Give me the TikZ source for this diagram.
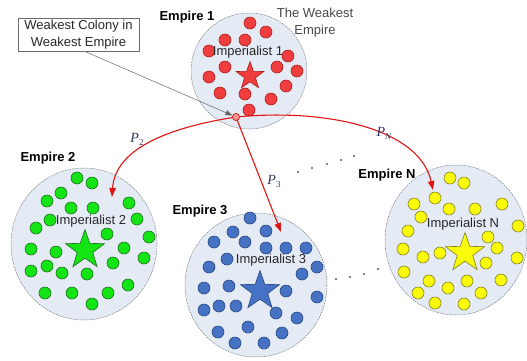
\documentclass[tikz,border=0pt]{standalone}
\usepackage{fontspec}
\setmainfont{Liberation Sans}
\newfontfamily\pfont{Liberation Serif}
\usetikzlibrary{shapes.geometric,arrows.meta}
\definecolor{bgfill}{RGB}{229,235,245}
\definecolor{rimgray}{RGB}{120,120,120}
\definecolor{rfill}{RGB}{240,62,62}
\definecolor{rdraw}{RGB}{175,30,30}
\definecolor{gfill}{RGB}{20,228,20}
\definecolor{gdraw}{RGB}{30,110,30}
\definecolor{bfill}{RGB}{70,114,196}
\definecolor{bdraw}{RGB}{40,70,130}
\definecolor{yfill}{RGB}{250,250,10}
\definecolor{ydraw}{RGB}{130,130,30}
\definecolor{arrred}{RGB}{225,20,20}
\definecolor{plabel}{RGB}{45,55,95}
\definecolor{txtgray}{RGB}{40,40,40}
\begin{document}
\begin{tikzpicture}[x=1pt,y=-1pt,
  empire/.style={ellipse,draw=rimgray,line width=0.5pt,dash pattern=on 1.5pt off 1pt,fill=bgfill,inner sep=0pt},
  dotbase/.style={circle,minimum size=12pt,inner sep=0pt,line width=0.6pt},
  rdot/.style={dotbase,fill=rfill,draw=rdraw},
  gdot/.style={dotbase,fill=gfill,draw=gdraw},
  bdot/.style={dotbase,fill=bfill,draw=bdraw},
  ydot/.style={dotbase,fill=yfill,draw=ydraw},
  impstar/.style={star,star points=5,star point ratio=2.5,inner sep=0pt,line width=0.6pt},
  emplabel/.style={font=\fontsize{13}{15}\selectfont\bfseries,text=black,inner sep=0pt},
  implabel/.style={font=\fontsize{13}{15}\selectfont,text=txtgray,inner sep=0pt},
  plab/.style={font=\fontsize{14}{16}\selectfont\pfont,text=plabel,inner sep=0pt},
  redarrow/.style={draw=arrred,line width=1.1pt,-{Triangle[length=9pt,width=6.5pt]}},
  sepdot/.style={fill=black,radius=0.9pt}
]
\useasboundingbox (0,0) rectangle (527,360);

% empires
\node[empire, minimum width=116pt, minimum height=116pt] (E1) at (249,71) {};
\node[empire, minimum width=146pt, minimum height=152pt] (E2) at (84,244) {};
\node[empire, minimum width=142pt, minimum height=144pt] (E3) at (256,285) {};
\node[empire, minimum width=142pt, minimum height=150pt] (EN) at (456,240) {};

% colonies
\foreach \x/\y [count=\i] in {250/23,266/32,225/40,245/40,209/51,288/56,225/67,277/67,297/71,209/77,286/86,220/93,245/94,271/99,249/110}
  \node[rdot] (r\i) at (\x,\y) {};
\foreach \x/\y [count=\i] in {77/178,92/183,61/193,47/201,71/208,93/208,129/203,50/220,137/219,36/228,107/234,149/237,31/249,56/252,124/248,144/258,31/271,47/266,62/273,87/274,113/263,45/293,72/293,108/293,128/285,92/304}
  \node[gdot] (g\i) at (\x,\y) {};
\foreach \x/\y [count=\i] in {250/218,233/232,266/231,214/242,245/242,266/248,286/248,306/248,227/259,209/267,317/267,302/274,204/288,229/286,286/291,317/297,204/310,219/306,236/306,276/313,297/318,248/327,218/332,282/333,235/343,264/343}
  \node[bdot] (b\i) at (\x,\y) {};
\foreach \x/\y [count=\i] in {450/178,464/183,414/204,435/198,449/209,475/209,502/204,421/217,408/231,518/226,488/237,403/249,423/257,440/253,497/248,517/258,486/263,404/272,429/281,467/281,501/280,418/293,448/288,481/293,435/303,464/304}
  \node[ydot] (y\i) at (\x,\y) {};

% imperialists
\node[impstar, minimum size=29pt, fill=rfill, draw=rdraw] (S1) at (250,76) {};
\node[impstar, minimum size=41pt, fill=gfill, draw=gdraw] (S2) at (85,250) {};
\node[impstar, minimum size=41pt, fill=bfill, draw=bdraw] (S3) at (260,291) {};
\node[impstar, minimum size=41pt, fill=yfill, draw=ydraw] (SN) at (465,253) {};

\node[implabel] (I1) at (248,52) {Imperialist 1};
\node[implabel] (I2) at (91,221) {Imperialist 2};
\node[implabel] (I3) at (271,260) {Imperialist 3};
\node[implabel] (IN) at (463,224) {Imperialist N};

% empire labels
\node[emplabel] (L1) at (187,17) {Empire 1};
\node[emplabel] (L2) at (48,158) {Empire 2};
\node[emplabel] (L3) at (200,211) {Empire 3};
\node[emplabel] (LN) at (387,175) {Empire N};

\node[implabel, align=center, font=\fontsize{13}{17}\selectfont, text=txtgray!85] (TW) at (315,23) {The Weakest\\Empire};

% weakest colony
\node[circle, minimum size=7pt, inner sep=0pt, fill=rfill!55, draw=arrred, line width=0.6pt] (wc) at (236,117) {};

% box
\node[draw=rimgray!90!black, line width=0.6pt, fill=white, minimum width=121pt, minimum height=33pt, inner sep=0pt, align=center, font=\fontsize{13}{17}\selectfont, text=txtgray] (box) at (78.5,34.5) {Weakest Colony in\\Weakest Empire};
\draw[draw=black!60, line width=0.5pt, -{Triangle[length=7pt,width=5pt]}] ([xshift=6pt]box.south) -- (wc);

% movement arrows
\coordinate (t2) at (112,197);
\coordinate (t3) at (281,232);
\coordinate (tN) at (433,190);
\draw[redarrow] (wc.center) .. controls (165,128) and (115,150) .. (t2);
\draw[redarrow] (wc.center) -- (t3);
\draw[redarrow] (wc.center) .. controls (330,108) and (420,130) .. (tN);
\node[circle, minimum size=7pt, inner sep=0pt, fill=rfill!55, draw=arrred, line width=0.6pt] at (wc) {};

\node[plab] (P2) at (137,139) {\textit{P}\raisebox{-3pt}{\fontsize{9}{9}\selectfont 2}};
\node[plab] (P3) at (274,181) {\textit{P}\raisebox{-3pt}{\fontsize{9}{9}\selectfont 3}};
\node[plab] (PN) at (384,133) {\textit{P}\raisebox{-3pt}{\fontsize{9}{9}\selectfont\textit{N}}};

% ellipsis dots
\foreach \x/\y in {298/172,312/168,327/164,341/160,354/156,336/279,350/277,364/274,378/269}
  \fill[black] (\x,\y) circle[radius=0.9pt];
\end{tikzpicture}
\end{document}
